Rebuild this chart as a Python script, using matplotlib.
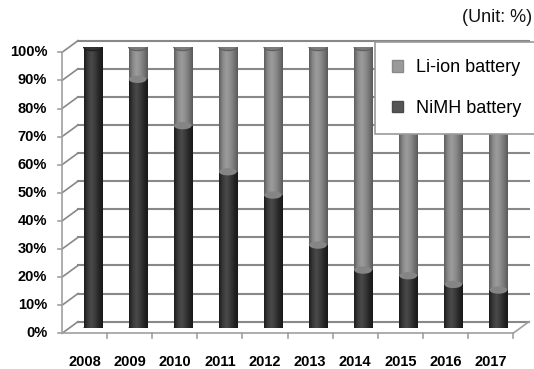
import numpy as np
import matplotlib
matplotlib.use('Agg')
import matplotlib.pyplot as plt
from matplotlib.patches import Ellipse, Patch
from matplotlib.colors import LinearSegmentedColormap

# values (share in %)
years = ['2008', '2009', '2010', '2011', '2012', '2013', '2014', '2015', '2016', '2017']
nimh = [100, 88.5, 72, 55.6, 47.3, 29.5, 20.6, 18.6, 15.5, 13.5]
liion = [0, 11.5, 28, 44.4, 52.7, 70.5, 79.4, 81.4, 84.5, 86.5]
yticks = [0, 10, 20, 30, 40, 50, 60, 70, 80, 90, 100]

plt.rcParams['font.family'] = ['Liberation Sans', 'DejaVu Sans']

fig = plt.figure(figsize=(5.34, 3.69), dpi=100)
ax = fig.add_axes([70 / 534, 41 / 369, 451 / 534, 281 / 369])
ax.axis('off')

# fake 3D depth: offsets of front / back planes in data units
DX = 0.177
DY_BACK = 2.25
DY_FRONT = -1.9
GRID = '#888888'

x = np.arange(len(years))
left, right = -0.5, len(years) - 0.5

# back wall + left wall grid
for v in yticks:
    ax.plot([left + DX, right + DX], [v + DY_BACK, v + DY_BACK], color=GRID, lw=1.5, zorder=1, clip_on=False)
    ax.plot([left - DX, left + DX], [v + DY_FRONT, v + DY_BACK], color=GRID, lw=1.2, zorder=1, clip_on=False)
    ax.plot([left - DX - 0.08, left - DX], [v + DY_FRONT, v + DY_FRONT], color='#a0a0a0', lw=1.2, clip_on=False)
    ax.text(left - DX - 0.33, v + DY_FRONT, f'{v}%', ha='right', va='center',
            fontsize=10.5, fontweight='bold', color='#000000')

# front axis and floor
ax.plot([left - DX, left - DX], [DY_FRONT, 100 + DY_FRONT], color='#a0a0a0', lw=1.2, clip_on=False)
ax.plot([left - DX, right - DX], [DY_FRONT, DY_FRONT], color='#a0a0a0', lw=1.2, clip_on=False)
ax.plot([right - DX, right + DX], [DY_FRONT, DY_BACK], color='#a0a0a0', lw=1.2, clip_on=False)
for k in range(1, len(years) + 1):
    ax.plot([left + k - DX] * 2, [DY_FRONT, DY_FRONT - 1.5], color='#a0a0a0', lw=1.2, clip_on=False)

for i, y in enumerate(years):
    ax.text(i - DX, -12, y, ha='center', va='center', fontsize=10.5, fontweight='bold', color='#000000')

# cylinders
W = 0.4
EH = 2.6
dark = LinearSegmentedColormap.from_list('d', ['#1c1c1c', '#3a3a3a', '#4a4a4a', '#3a3a3a', '#252525', '#181818'])
light = LinearSegmentedColormap.from_list('l', ['#5e5e5e', '#8a8a8a', '#9c9c9c', '#8e8e8e', '#767676', '#5a5a5a'])
grad = np.linspace(0, 1, 64).reshape(1, -1)


def shade(bars, cmap):
    for b in bars:
        if b.get_height() <= 0:
            continue
        x0, y0 = b.get_x(), b.get_y()
        im = ax.imshow(grad, extent=[x0, x0 + b.get_width(), y0, y0 + b.get_height()],
                       aspect='auto', cmap=cmap, zorder=3, interpolation='bilinear')
        im.set_clip_path(b)


b1 = ax.bar(x, nimh, W, color='none', zorder=3)
b2 = ax.bar(x, liion, W, bottom=nimh, color='none', zorder=3)
shade(b1, dark)
shade(b2, light)

for i in range(len(years)):
    ax.add_patch(Ellipse((i, 0), W, EH, facecolor='#262626', edgecolor='none', zorder=2.9))
    if liion[i] > 0:
        ax.add_patch(Ellipse((i, nimh[i]), W * 0.98, EH, facecolor='#858585', edgecolor='none', zorder=3.1))
        ax.add_patch(Ellipse((i, 100), W, EH, facecolor='#7a7a7a', edgecolor='#5e5e5e', lw=0.8, zorder=3.2))
    else:
        ax.add_patch(Ellipse((i, 100), W, EH, facecolor='#333333', edgecolor='#1e1e1e', lw=0.8, zorder=3.2))

ax.set_xlim(left, right)
ax.set_ylim(0, 100)

handles = [Patch(facecolor='#9a9a9a', edgecolor='#8a8a8a', label='Li-ion battery'),
           Patch(facecolor='#555555', edgecolor='#4a4a4a', label='NiMH battery')]
leg = fig.legend(handles=handles, loc='upper left', bbox_to_anchor=(375 / 534, 1 - 42 / 369),
                 bbox_transform=fig.transFigure, borderaxespad=0, fontsize=13, frameon=True,
                 fancybox=False, edgecolor='#999999', framealpha=1, borderpad=0.95,
                 labelspacing=1.3, handlelength=0.6, handleheight=0.6, handletextpad=0.7)
leg.get_frame().set_linewidth(1.2)
leg.set_zorder(10)

fig.text(532 / 534, 1 - 17 / 369, '(Unit: %)', ha='right', va='center', fontsize=13, color='#111111')

fig.savefig('out.png', dpi=100)
